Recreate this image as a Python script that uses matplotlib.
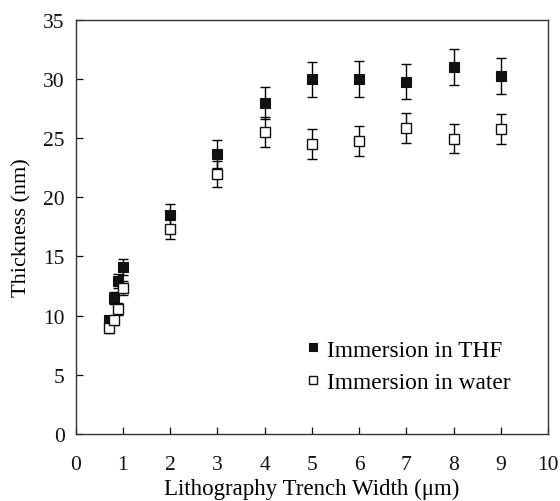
import matplotlib
matplotlib.use("Agg")
import matplotlib.pyplot as plt

# Data
width = [0.7, 0.8, 0.9, 1.0, 2, 3, 4, 5, 6, 7, 8, 9]
thf = [9.6, 11.5, 12.9, 14.1, 18.5, 23.65, 28.0, 29.95, 30.0, 29.75, 31.0, 30.25]
thf_err = [0.4, 0.5, 0.6, 0.7, 0.9, 1.2, 1.35, 1.5, 1.5, 1.47, 1.55, 1.52]
water = [8.95, 9.6, 10.55, 12.3, 17.3, 22.0, 25.55, 24.5, 24.75, 25.85, 24.95, 25.75]
water_err = [0.4, 0.4, 0.5, 0.6, 0.87, 1.1, 1.27, 1.25, 1.24, 1.3, 1.24, 1.27]

x_ticks = list(range(0, 11))
y_ticks = list(range(0, 36, 5))

plt.rcParams['font.family'] = ['Liberation Serif', 'DejaVu Serif']

fig = plt.figure(figsize=(5.6, 5.02), dpi=100)
ax = fig.add_axes([0.1352, 0.1335, 0.979 - 0.1352, 0.9588 - 0.1335])

ax.errorbar(width, thf, yerr=thf_err, fmt='none', ecolor='black',
            elinewidth=1.0, capsize=3.5, capthick=1.0, zorder=2)
h1, = ax.plot(width, thf, linestyle='none', marker='s', markersize=6.8,
              markerfacecolor='#111111', markeredgecolor='#111111',
              markeredgewidth=0.8, zorder=3, label='Immersion in THF')
ax.errorbar(width, water, yerr=water_err, fmt='none', ecolor='black',
            elinewidth=1.0, capsize=3.5, capthick=1.0, zorder=4)
h2, = ax.plot(width, water, linestyle='none', marker='s', markersize=6.8,
              markerfacecolor='white', markeredgecolor='#111111',
              markeredgewidth=1.0, zorder=5, label='Immersion in water')

ax.set_xlim(0, 10)
ax.set_ylim(0, 35)
ax.set_xticks(x_ticks)
ax.set_yticks(y_ticks)
ax.tick_params(direction='in', length=5, width=0.9, labelsize=15.5,
               top=False, right=False, colors='#111111')
ax.tick_params(axis='y', pad=8)
ax.tick_params(axis='x', pad=15)
for s in ax.spines.values():
    s.set_linewidth(1.0)
    s.set_color('#333333')

ax.set_xlabel('Lithography Trench Width (\u03bcm)', fontsize=16.5, labelpad=3)
ax.set_ylabel('Thickness (nm)', fontsize=16, labelpad=8)

leg = ax.legend(handles=[h1, h2], loc='lower left',
                bbox_to_anchor=(0.467, 0.076), frameon=False, fontsize=16.8,
                markerscale=0.75, handlelength=0.6, handletextpad=0.3,
                labelspacing=0.48, borderaxespad=0)

fig.savefig('out.png', dpi=100)
